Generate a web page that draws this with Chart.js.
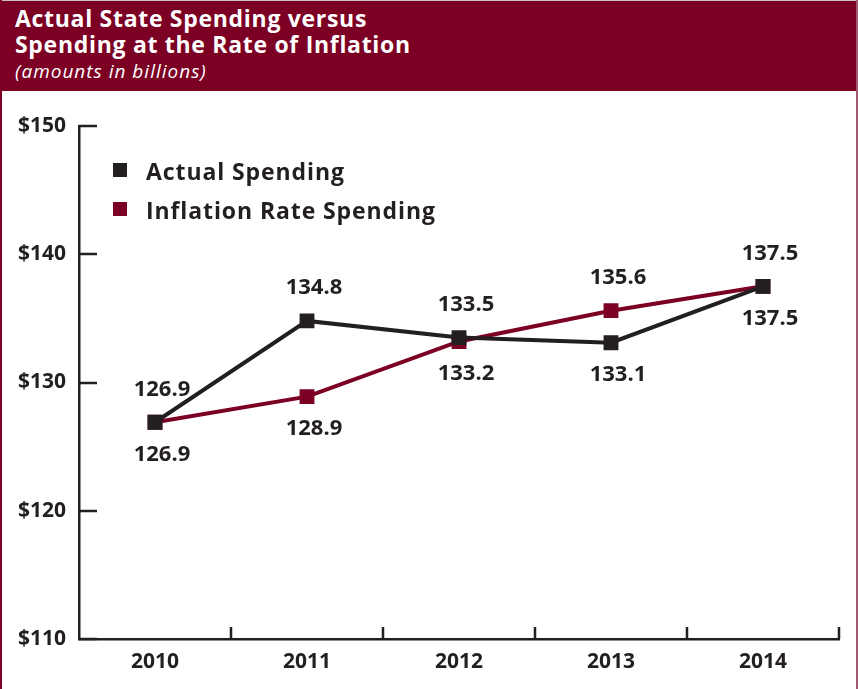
<!DOCTYPE html>
<html>
<head>
<meta charset="utf-8">
<script src="https://cdn.jsdelivr.net/npm/chart.js@4/dist/chart.umd.min.js"></script>
<style>
  html, body { margin: 0; padding: 0; background: #fff; }
  #wrap { position: relative; width: 858px; height: 689px; overflow: hidden; background: #fff; }
  #head {
    position: absolute; left: 0; top: 0; width: 858px; height: 91px;
    background: #7b0024; border-top: 1px solid #c9c2c4; box-sizing: border-box;
    color: #fff; font-family: "Open Sans", sans-serif;
  }
  #head .t { position: absolute; left: 15px; font-weight: 700; font-size: 23px; letter-spacing: 0.7px; line-height: 1; white-space: nowrap; }
  #head .s { position: absolute; left: 15px; top: 61px; font-style: italic; font-size: 19px; letter-spacing: 1px; line-height: 1; white-space: nowrap; }
  #lborder { position: absolute; left: 0; top: 0; width: 2px; height: 689px; background: #7b0024; }
  #rborder { position: absolute; left: 856px; top: 0; width: 2px; height: 689px; background: #a05a72; }
  #c { position: absolute; left: 0; top: 0; }
  #legend { position: absolute; left: 113px; top: 158px; font-family: "Open Sans", sans-serif; font-weight: 700; font-size: 23px; letter-spacing: 0.9px; color: #231f20; }
  #legend div { position: relative; height: 39px; line-height: 26px; padding-left: 33px; white-space: nowrap; }
  #legend span { position: absolute; left: 0; top: 5px; width: 14px; height: 14px; }
</style>
</head>
<body>
<div id="wrap">
  <canvas id="c" width="858" height="689"></canvas>
  <div id="head">
    <div class="t" style="top:6px">Actual State Spending versus</div>
    <div class="t" style="top:32px">Spending at the Rate of Inflation</div>
    <div class="s">(amounts in billions)</div>
  </div>
  <div id="lborder"></div>
  <div id="rborder"></div>
  <div id="legend"></div>
</div>
<script>
const years = ["2010", "2011", "2012", "2013", "2014"];
const actualSpending = [126.9, 134.8, 133.5, 133.1, 137.5];
const inflationSpending = [126.9, 128.9, 133.2, 135.6, 137.5];
const seriesNames = ["Actual Spending", "Inflation Rate Spending"];
const yTicks = [110, 120, 130, 140, 150];

// where each value label sits relative to its point
const actualLabelSide = ["up", "up", "up", "down", "up"];
const inflationLabelSide = ["down", "down", "down", "up", "down"];

const BLACK = "#231f20";
const RED = "#7b0024";
const FONT = "'Open Sans', sans-serif";

// legend sits inside the plot area
const legend = document.getElementById("legend");
[BLACK, RED].forEach(function (col, i) {
  let row = document.createElement("div");
  row.innerHTML = `<span style="background:${col}"></span>${seriesNames[i]}`;
  legend.appendChild(row);
});

// short inward ticks on both axes
const innerTicks = {
  id: "innerTicks",
  afterDraw(chart) {
    const ctx = chart.ctx;
    const a = chart.chartArea;
    const y = chart.scales.y;
    ctx.save();
    ctx.strokeStyle = BLACK;
    ctx.lineWidth = 2.5;
    ctx.beginPath();
    yTicks.forEach(function (v) {
      let py = Math.round(y.getPixelForValue(v));
      ctx.moveTo(a.left, py);
      ctx.lineTo(a.left + 18, py);
    });
    const n = years.length;
    for (let i = 1; i <= n; i++) {
      let px = Math.round(a.left + (i * (a.right - a.left)) / n);
      ctx.moveTo(px, a.bottom);
      ctx.lineTo(px, a.bottom - 12);
    }
    ctx.stroke();
    ctx.restore();
  },
};

// value labels above or below each point
const valueLabels = {
  id: "valueLabels",
  afterDatasetsDraw(chart) {
    const ctx = chart.ctx;
    ctx.save();
    ctx.font = "700 22px " + FONT;
    ctx.fillStyle = BLACK;
    ctx.textAlign = "center";
    ctx.textBaseline = "middle";
    chart.data.datasets.forEach(function (ds, di) {
      let meta = chart.getDatasetMeta(di);
      meta.data.forEach(function (pt, i) {
        let dy = ds.labelSide[i] === "up" ? -33 : 32;
        ctx.fillText(ds.data[i].toFixed(1), pt.x + 7, pt.y + dy);
      });
    });
    ctx.restore();
  },
};

new Chart(document.getElementById("c"), {
  type: "line",
  data: {
    labels: years,
    datasets: [
      {
        label: seriesNames[0],
        data: actualSpending,
        labelSide: actualLabelSide,
        borderColor: BLACK,
        backgroundColor: BLACK,
        borderWidth: 4,
        pointStyle: "rect",
        pointRadius: 10.5,
        pointBorderWidth: 0,
        tension: 0,
      },
      {
        label: seriesNames[1],
        data: inflationSpending,
        labelSide: inflationLabelSide,
        borderColor: RED,
        backgroundColor: RED,
        borderWidth: 4,
        pointStyle: "rect",
        pointRadius: 10.5,
        pointBorderWidth: 0,
        tension: 0,
      },
    ],
  },
  options: {
    responsive: false,
    animation: false,
    layout: { padding: { top: 126, right: 19, left: 0, bottom: 0 } },
    plugins: { legend: { display: false }, tooltip: { enabled: false } },
    scales: {
      x: {
        offset: true,
        grid: { display: false, drawTicks: false },
        border: { display: true, color: BLACK, width: 2.5 },
        ticks: { color: BLACK, padding: 10, font: { family: FONT, weight: "700", size: 21 } },
        afterFit(scale) { scale.height = 50; },
      },
      y: {
        min: 110,
        max: 150,
        grid: { display: false, drawTicks: false },
        border: { display: true, color: BLACK, width: 2.5 },
        ticks: {
          stepSize: 10,
          color: BLACK,
          padding: 13,
          font: { family: FONT, weight: "700", size: 21 },
          callback: (v) => "$" + v,
        },
        afterFit(scale) { scale.width = 79; },
      },
    },
  },
  plugins: [innerTicks, valueLabels],
});
</script>
</body>
</html>
